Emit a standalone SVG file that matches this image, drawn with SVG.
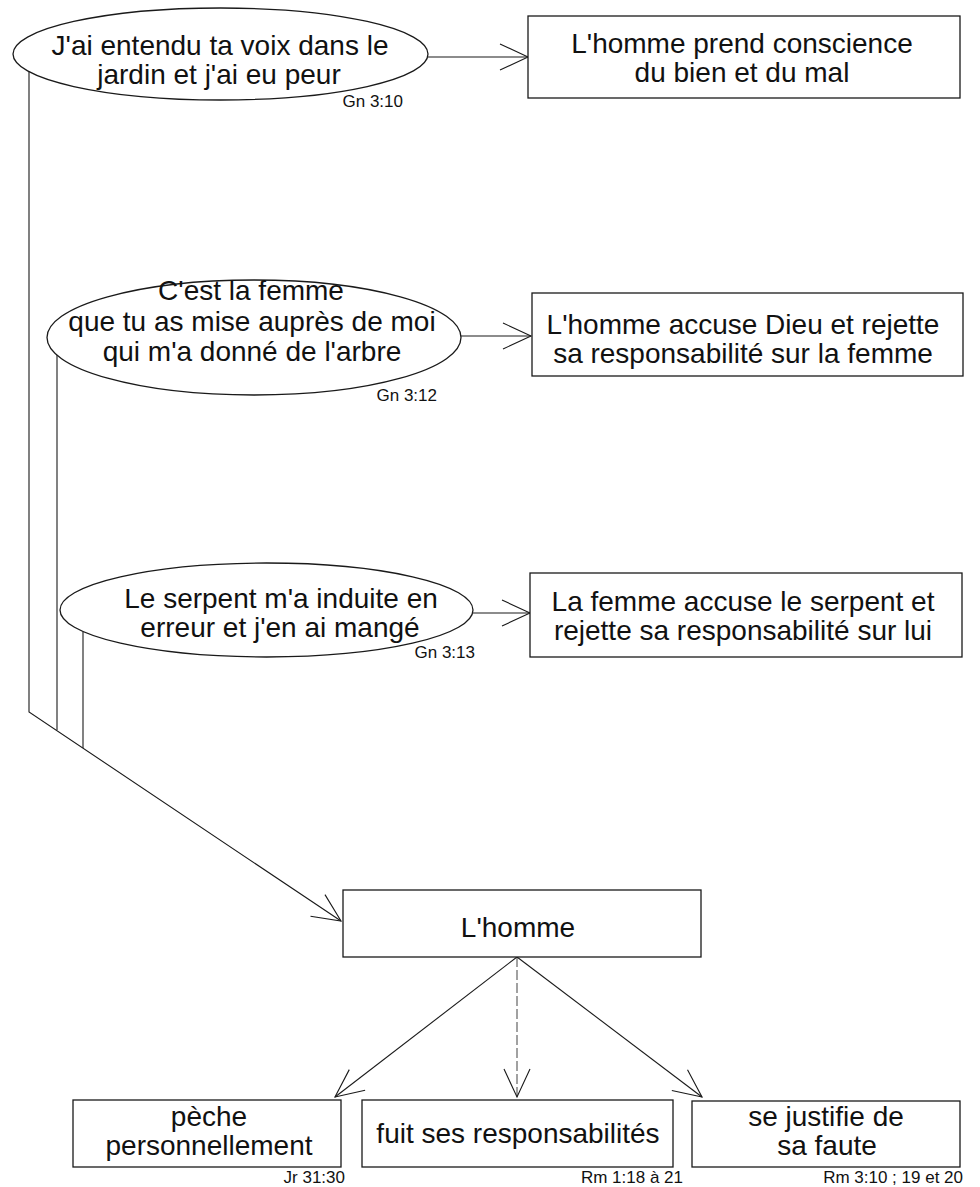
<svg xmlns="http://www.w3.org/2000/svg" width="980" height="1187" viewBox="0 0 980 1187">
<style>
  .shape { fill: #ffffff; stroke: #1a1a1a; stroke-width: 1.3; }
  .lbl { font-family: "Liberation Sans", Arial, sans-serif; font-size: 28px; fill: #111; text-anchor: middle; }
  .ref { font-family: "Liberation Sans", Arial, sans-serif; font-size: 17px; fill: #111; text-anchor: end; }
  .conn { fill: none; stroke: #1a1a1a; stroke-width: 1.1; }
  .dash { stroke-dasharray: 10 3; stroke: #555; }
</style>
<defs>
  <marker id="open" markerUnits="userSpaceOnUse" viewBox="-32 -16 34 32" refX="0" refY="0" markerWidth="34" markerHeight="32" orient="auto" overflow="visible">
    <path d="M-28,-13 L0,0 L-28,13" fill="none" stroke="#1a1a1a" stroke-width="1.1"/>
  </marker>
</defs>
<rect width="980" height="1187" fill="#ffffff"/>

<g id="connectors">
  <line class="conn" x1="428" y1="57" x2="528" y2="57" marker-end="url(#open)"/>
  <line class="conn" x1="461" y1="336" x2="531" y2="336" marker-end="url(#open)"/>
  <line class="conn" x1="473" y1="613" x2="530" y2="613" marker-end="url(#open)"/>
  <polyline class="conn" points="29,71 29,712 341,921" marker-end="url(#open)"/>
  <line class="conn" x1="57" y1="355" x2="57" y2="730"/>
  <line class="conn" x1="83" y1="632" x2="83" y2="748"/>
  <line class="conn" x1="517" y1="957" x2="335" y2="1097" marker-end="url(#open)"/>
  <line class="conn dash" x1="517" y1="957" x2="517" y2="1097" marker-end="url(#open)"/>
  <line class="conn" x1="517" y1="957" x2="702" y2="1097" marker-end="url(#open)"/>
</g>

<g id="e1">
  <ellipse class="shape" cx="220.5" cy="54" rx="207.5" ry="46"/>
  <text class="lbl"><tspan x="220" y="55">J'ai entendu ta voix dans le</tspan><tspan x="219" y="84">jardin et j'ai eu peur</tspan></text>
  <text class="ref" x="403" y="107">Gn 3:10</text>
</g>

<g id="b1">
  <rect class="shape" x="528" y="16" width="432" height="82"/>
  <text class="lbl"><tspan x="742" y="53">L'homme prend conscience</tspan><tspan x="742" y="82">du bien et du mal</tspan></text>
</g>

<g id="e2">
  <ellipse class="shape" cx="254" cy="337.5" rx="207" ry="57.5"/>
  <text class="lbl"><tspan x="251" y="300">C'est la femme</tspan><tspan x="252" y="331">que tu as mise auprès de moi</tspan><tspan x="252" y="361">qui m'a donné de l'arbre</tspan></text>
  <text class="ref" x="437" y="401">Gn 3:12</text>
</g>

<g id="b2">
  <rect class="shape" x="532" y="293" width="431" height="83"/>
  <text class="lbl"><tspan x="743" y="334">L'homme accuse Dieu et rejette</tspan><tspan x="743" y="363">sa responsabilité sur la femme</tspan></text>
</g>

<g id="e3">
  <ellipse class="shape" cx="266.5" cy="610" rx="206.5" ry="47"/>
  <text class="lbl"><tspan x="281" y="608">Le serpent m'a induite en</tspan><tspan x="280" y="637">erreur et j'en ai mangé</tspan></text>
  <text class="ref" x="475" y="658">Gn 3:13</text>
</g>

<g id="b3">
  <rect class="shape" x="530" y="573" width="432" height="84"/>
  <text class="lbl"><tspan x="743" y="611">La femme accuse le serpent et</tspan><tspan x="743" y="640">rejette sa responsabilité sur lui</tspan></text>
</g>

<g id="homme">
  <rect class="shape" x="343" y="890" width="358" height="67"/>
  <text class="lbl" x="518" y="937">L'homme</text>
</g>

<g id="peche">
  <rect class="shape" x="73" y="1100" width="268" height="67"/>
  <text class="lbl"><tspan x="209" y="1126">pèche</tspan><tspan x="209" y="1155">personnellement</tspan></text>
  <text class="ref" x="345" y="1183">Jr 31:30</text>
</g>

<g id="fuit">
  <rect class="shape" x="362" y="1100" width="311" height="67"/>
  <text class="lbl" x="518" y="1143">fuit ses responsabilités</text>
  <text class="ref" x="683" y="1183">Rm 1:18 à 21</text>
</g>

<g id="justifie">
  <rect class="shape" x="692" y="1101" width="268" height="66"/>
  <text class="lbl"><tspan x="826" y="1126">se justifie de</tspan><tspan x="827" y="1155">sa faute</tspan></text>
  <text class="ref" x="963" y="1183">Rm 3:10 ; 19 et 20</text>
</g>
</svg>
